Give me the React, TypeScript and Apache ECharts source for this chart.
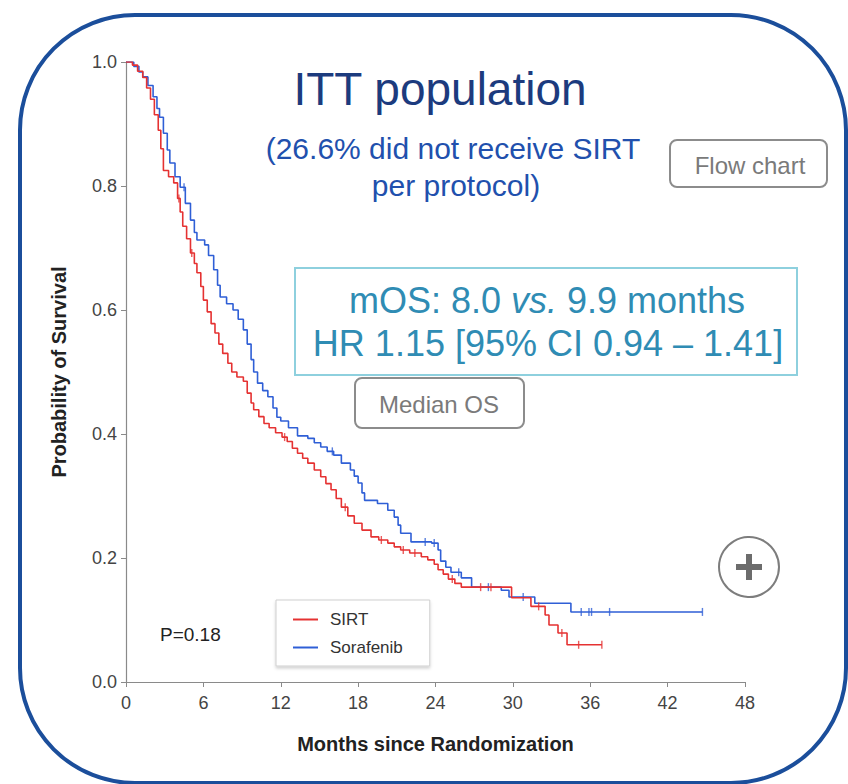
import React, { useEffect, useRef } from "react";
import * as echarts from "echarts";

// Kaplan–Meier step points: [months, survival probability]
const sirtTimes = [
  0, 0.5, 0.9, 1.3, 1.6, 1.9, 2.2, 2.5, 2.7, 2.9, 3.3, 3.7, 4.0, 4.2, 4.4, 4.7, 5.0, 5.3, 5.5, 5.8,
  6.0, 6.3, 6.6, 6.9, 7.2, 7.5, 7.9, 8.2, 8.6, 9.1, 9.4, 9.7, 9.9, 10.3, 10.7, 11.1, 11.6, 12.1,
  12.5, 12.9, 13.3, 13.7, 14.1, 14.6, 15.1, 15.5, 15.9, 16.3, 16.7, 17.2, 17.7, 18.3, 19.0, 19.6,
  20.3, 20.8, 21.3, 22.0, 22.9, 23.4, 23.9, 24.2, 24.6, 25.0, 25.5, 26.0, 29.9, 31.4, 32.5, 32.8,
  33.5, 34.2, 36.9,
];
const sirtSurv = [
  1.0, 0.995, 0.985, 0.975, 0.958, 0.94, 0.915, 0.89, 0.86, 0.825, 0.815, 0.805, 0.78, 0.758, 0.735,
  0.715, 0.692, 0.675, 0.66, 0.638, 0.616, 0.597, 0.578, 0.563, 0.545, 0.53, 0.514, 0.5, 0.492,
  0.485, 0.466, 0.45, 0.439, 0.428, 0.417, 0.41, 0.402, 0.395, 0.388, 0.377, 0.369, 0.361, 0.353,
  0.342, 0.331, 0.32, 0.31, 0.296, 0.282, 0.268, 0.256, 0.245, 0.234, 0.229, 0.224, 0.218, 0.213,
  0.208, 0.202, 0.197, 0.19, 0.181, 0.174, 0.166, 0.159, 0.153, 0.136, 0.122, 0.108, 0.092, 0.079,
  0.06, 0.06,
];
const sirtCensored = [4.1, 5.1, 12.3, 17.0, 19.8, 21.5, 22.4, 25.3, 27.5, 28.3, 32.0, 33.8, 35.1, 36.9];

const sorafenibTimes = [
  0, 0.6, 1.0, 1.3, 1.7, 2.1, 2.4, 2.6, 2.9, 3.2, 3.4, 3.8, 4.2, 4.6, 5.0, 5.3, 5.5, 6.1, 6.4, 6.8,
  7.1, 7.3, 7.8, 8.3, 8.7, 9.1, 9.4, 9.7, 9.9, 10.2, 10.6, 11.0, 11.4, 11.7, 12.0, 12.6, 13.3, 14.1,
  14.6, 15.1, 15.6, 16.1, 16.7, 17.4, 17.7, 18.0, 18.3, 18.5, 19.5, 20.3, 20.8, 21.1, 21.3, 22.1,
  23.7, 24.2, 24.4, 24.8, 25.2, 26.0, 26.8, 29.1, 29.7, 31.7, 34.5, 44.7,
];
const sorafenibSurv = [
  1.0, 0.993, 0.984, 0.976, 0.962, 0.944, 0.925, 0.911, 0.885, 0.858, 0.837, 0.815, 0.798, 0.772,
  0.745, 0.725, 0.713, 0.705, 0.688, 0.665, 0.64, 0.621, 0.61, 0.6, 0.585, 0.568, 0.545, 0.52, 0.5,
  0.482, 0.47, 0.46, 0.442, 0.427, 0.421, 0.41, 0.397, 0.393, 0.386, 0.379, 0.372, 0.366, 0.353,
  0.342, 0.332, 0.321, 0.305, 0.293, 0.288, 0.277, 0.266, 0.253, 0.24, 0.226, 0.224, 0.213, 0.195,
  0.185, 0.177, 0.168, 0.153, 0.148, 0.137, 0.127, 0.113, 0.113,
];
const sorafenibCensored = [4.5, 16.0, 23.2, 23.9, 25.8, 28.1, 30.8, 35.3, 35.9, 36.1, 37.5, 44.7];

const xTicks = [0, 6, 12, 18, 24, 30, 36, 42, 48];
const yTicks = [0, 0.2, 0.4, 0.6, 0.8, 1.0];

const RED = "#e53232";
const BLUE = "#2f5fd6";
const FONT = "'Liberation Sans', Arial, sans-serif";

function pairs(times: number[], surv: number[]) {
  return times.map((t, i) => [t, surv[i]]);
}

// survival value of a step curve at time t (value of last step at or before t)
function survAt(times: number[], surv: number[], t: number) {
  let v = surv[0];
  for (let i = 0; i < times.length; i++) {
    if (times[i] <= t) v = surv[i];
  }
  return v;
}

function censorPoints(times: number[], surv: number[], cens: number[]) {
  return cens.map((t) => [t, survAt(times, surv, t)]);
}

function centeredText(x: number, y: number, text: string, size: number, fill: string) {
  return {
    type: "text",
    x,
    y,
    style: { text, fontFamily: FONT, fontSize: size, fill, align: "center", verticalAlign: "middle" },
  };
}

export default function App() {
  const ref = useRef<HTMLDivElement>(null);

  useEffect(() => {
    if (!ref.current) return;
    const chart = echarts.init(ref.current, null, { renderer: "svg" });

    const option: any = {
      animation: false,
      backgroundColor: "#ffffff",
      textStyle: { fontFamily: FONT },
      grid: { left: 126, right: 103, top: 62, bottom: 102 },
      xAxis: {
        type: "value",
        min: xTicks[0],
        max: xTicks[xTicks.length - 1],
        interval: 6,
        name: "Months since Randomization",
        nameLocation: "middle",
        nameGap: 52,
        nameTextStyle: { fontFamily: FONT, fontSize: 20, fontWeight: "bold", color: "#222" },
        axisLine: { lineStyle: { color: "#8a8a8a", width: 1.2 } },
        axisTick: { show: true, length: 5, lineStyle: { color: "#8a8a8a" } },
        axisLabel: { fontFamily: FONT, fontSize: 18, color: "#444", margin: 12 },
        splitLine: { show: false },
      },
      yAxis: {
        type: "value",
        min: yTicks[0],
        max: yTicks[yTicks.length - 1],
        interval: 0.2,
        name: "Probability of Survival",
        nameLocation: "middle",
        nameGap: 57,
        nameTextStyle: { fontFamily: FONT, fontSize: 20, fontWeight: "bold", color: "#222" },
        axisLine: { show: true, lineStyle: { color: "#8a8a8a", width: 1.2 } },
        axisTick: { show: true, length: 5, lineStyle: { color: "#8a8a8a" } },
        axisLabel: {
          fontFamily: FONT,
          fontSize: 18,
          color: "#444",
          margin: 9,
          formatter: (v: number) => v.toFixed(1),
        },
        splitLine: { show: false },
      },
      legend: {
        data: ["SIRT", "Sorafenib"],
        orient: "vertical",
        left: 276,
        top: 600,
        padding: [11, 27, 10, 17],
        itemGap: 11,
        itemWidth: 25,
        itemHeight: 2,
        icon: "rect",
        backgroundColor: "#ffffff",
        borderColor: "#cfcfcf",
        borderWidth: 1,
        shadowColor: "rgba(0,0,0,0.18)",
        shadowBlur: 3,
        shadowOffsetY: 2,
        textStyle: { fontFamily: FONT, fontSize: 17, color: "#333", padding: [0, 0, 0, 7] },
      },
      series: [
        {
          name: "SIRT",
          type: "line",
          step: "end",
          data: pairs(sirtTimes, sirtSurv),
          showSymbol: false,
          symbol: "none",
          lineStyle: { color: RED, width: 1.6 },
          itemStyle: { color: RED },
          z: 3,
        },
        {
          name: "Sorafenib",
          type: "line",
          step: "end",
          data: pairs(sorafenibTimes, sorafenibSurv),
          showSymbol: false,
          symbol: "none",
          lineStyle: { color: BLUE, width: 1.6 },
          itemStyle: { color: BLUE },
          z: 2,
        },
        {
          name: "SIRT censored",
          type: "scatter",
          data: censorPoints(sirtTimes, sirtSurv, sirtCensored),
          symbol: "rect",
          symbolSize: [1.4, 8],
          itemStyle: { color: RED },
          z: 3,
        },
        {
          name: "Sorafenib censored",
          type: "scatter",
          data: censorPoints(sorafenibTimes, sorafenibSurv, sorafenibCensored),
          symbol: "rect",
          symbolSize: [1.4, 8],
          itemStyle: { color: BLUE },
          z: 2,
        },
      ],
      graphic: [
        {
          type: "rect",
          shape: { x: 20, y: 15, width: 826, height: 768, r: 115 },
          style: { fill: "none", stroke: "#1b4e9b", lineWidth: 4 },
          z: 0,
        },
        centeredText(440, 89, "ITT population", 46, "#1c3b7e"),
        centeredText(453, 148, "(26.6% did not receive SIRT", 30, "#2150ad"),
        centeredText(456, 185, "per protocol)", 30, "#2150ad"),
        {
          type: "rect",
          shape: { x: 670, y: 140, width: 157, height: 47, r: 7 },
          style: { fill: "#ffffff", stroke: "#8c8c8c", lineWidth: 2 },
        },
        centeredText(750, 165, "Flow chart", 24, "#7a7a7a"),
        {
          type: "rect",
          shape: { x: 295, y: 268, width: 502, height: 107 },
          style: { fill: "#ffffff", stroke: "#8ed0de", lineWidth: 2 },
        },
        {
          type: "text",
          x: 547,
          y: 300,
          style: {
            text: "{a|mOS: 8.0 }{i|vs.}{a| 9.9 months}",
            align: "center",
            verticalAlign: "middle",
            rich: {
              a: { fontFamily: FONT, fontSize: 36, fill: "#2f8cb4" },
              i: { fontFamily: FONT, fontSize: 36, fontStyle: "italic", fill: "#2f8cb4" },
            },
          },
        },
        centeredText(548, 343, "HR 1.15 [95% CI 0.94 \u2013 1.41]", 36, "#2f8cb4"),
        {
          type: "rect",
          shape: { x: 355, y: 378, width: 169, height: 50, r: 7 },
          style: { fill: "#ffffff", stroke: "#8c8c8c", lineWidth: 2 },
        },
        centeredText(439, 404, "Median OS", 24, "#7a7a7a"),
        {
          type: "circle",
          shape: { cx: 749, cy: 567, r: 30 },
          style: { fill: "#ffffff", stroke: "#7d7d7d", lineWidth: 2 },
        },
        {
          type: "rect",
          shape: { x: 736, y: 564, width: 26, height: 6 },
          style: { fill: "#6c6c6c" },
        },
        {
          type: "rect",
          shape: { x: 746, y: 554, width: 6, height: 26 },
          style: { fill: "#6c6c6c" },
        },
        {
          type: "text",
          x: 160,
          y: 634,
          style: {
            text: "P=0.18",
            fontFamily: FONT,
            fontSize: 19,
            fill: "#222",
            align: "left",
            verticalAlign: "middle",
          },
        },
      ],
    };

    chart.setOption(option);
    return () => chart.dispose();
  }, []);

  return (
    <div
      ref={ref}
      style={{ position: "fixed", left: 0, top: 0, width: 848, height: 784, background: "#fff" }}
    />
  );
}
